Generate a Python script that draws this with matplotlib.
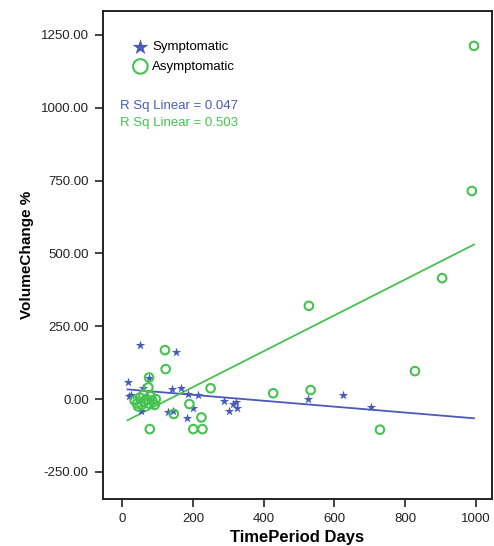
import numpy as np
import matplotlib
matplotlib.use("Agg")
import matplotlib.pyplot as plt
from matplotlib.ticker import FormatStrFormatter

plt.rcParams['font.family'] = ['Liberation Sans', 'DejaVu Sans']

# Symptomatic (stars)
sym_days = [50, 152, 15, 76, 58, 19, 25, 140, 165, 187, 215, 199, 130, 144, 184,
            53, 288, 314, 322, 303, 324, 526, 625, 703]
sym_vol = [186, 160, 57, 74, 37, 11, 15, 34, 37, 17, 14, -29, -46, -40, -66,
           -40, -6, -17, -11, -40, -29, 0, 15, -26]

# Asymptomatic (circles)
asy_days = [995, 989, 905, 828, 528, 533, 729, 427, 250, 121, 123, 76, 74, 190,
            224, 146, 201, 227, 78,
            35, 42, 50, 55, 62, 68, 75, 85, 92, 45, 80, 60, 95]
asy_vol = [1212, 714, 415, 96, 320, 31, -105, 20, 37, 168, 103, 74, 40, -17,
           -63, -51, -103, -103, -103,
           -5, -15, 5, -20, -10, 0, -15, -5, -20, -25, 10, 15, 0]

r2_labels = ["R Sq Linear = 0.047", "R Sq Linear = 0.503"]
x_ticks = [0, 200, 400, 600, 800, 1000]
y_ticks = [-250, 0, 250, 500, 750, 1000, 1250]

blue = '#4a5ab8'
green = '#45c24f'

fig = plt.figure(figsize=(4.94, 5.46), dpi=100)
ax = fig.add_axes([0.208, 0.086, 0.788, 0.894])

ax.scatter(sym_days, sym_vol, marker='*', s=50, color=blue, linewidths=0,
           label='Symptomatic', zorder=3)
ax.scatter(asy_days, asy_vol, marker='o', s=38, facecolors='none',
           edgecolors=green, linewidths=1.5, label='Asymptomatic', zorder=3)

all_x = np.array(sym_days + asy_days, dtype=float)
xs = np.array([all_x.min(), all_x.max()])
for dx, dy, c in [(sym_days, sym_vol, blue), (asy_days, asy_vol, green)]:
    b, a = np.polyfit(dx, dy, 1)
    ax.plot(xs, a + b * xs, color=c, lw=1.3, zorder=2)

ax.set_xlim(-55, 1046)
ax.set_ylim(-343, 1332)
ax.set_xticks(x_ticks)
ax.set_yticks(y_ticks)
ax.yaxis.set_major_formatter(FormatStrFormatter('%.2f'))
ax.tick_params(direction='out', length=6, width=1.2, labelsize=9.5,
               colors='#222222', pad=4)
for s in ax.spines.values():
    s.set_linewidth(1.4)
    s.set_color('#222222')

ax.set_xlabel('TimePeriod Days', fontsize=12, fontweight='bold', labelpad=4)
ax.set_ylabel('VolumeChange %', fontsize=11, fontweight='bold', labelpad=5)

leg = ax.legend(loc='upper left', bbox_to_anchor=(0.056, 0.957), frameon=False,
                fontsize=9.5, handletextpad=0.4, handlelength=1.0,
                borderaxespad=0.3, labelspacing=0.55, markerscale=1.7)

ax.text(0.044, 0.806, r2_labels[0], transform=ax.transAxes, color=blue,
        fontsize=9.5, va='center')
ax.text(0.044, 0.771, r2_labels[1], transform=ax.transAxes, color=green,
        fontsize=9.5, va='center')

fig.savefig('out.png', dpi=100)
